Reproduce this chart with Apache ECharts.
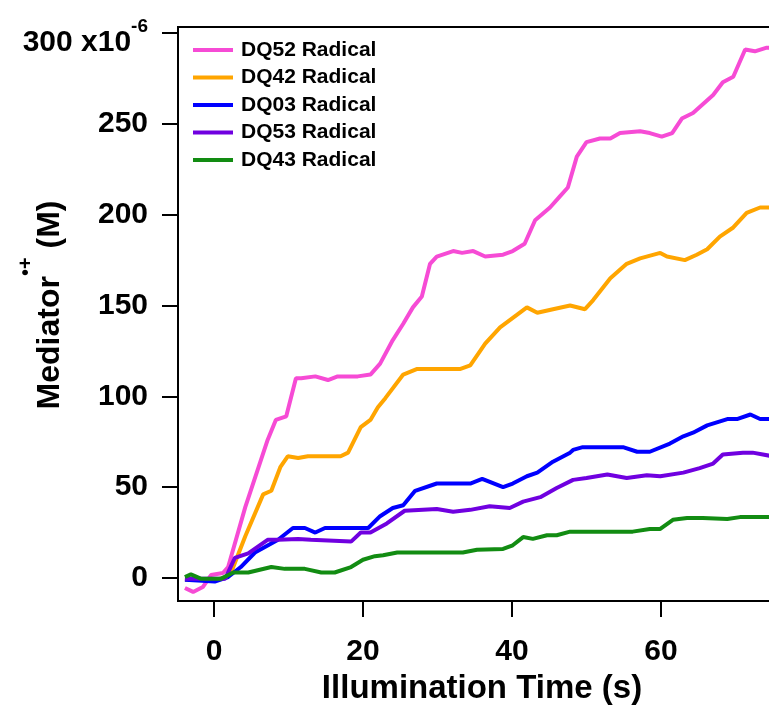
<!DOCTYPE html>
<html>
<head>
<meta charset="utf-8">
<script src="https://cdn.jsdelivr.net/npm/echarts@6/dist/echarts.min.js"></script>
<style>
  html, body { margin: 0; padding: 0; background: #fff; }
  #chart { width: 769px; height: 709px; }
</style>
</head>
<body>
<div id="chart"></div>
<script>
// mediator radical concentration vs illumination time, values in 1e-6 M
const xTicks = [0, 20, 40, 60];
const yTicks = [0, 50, 100, 150, 200, 250, 300];

const seriesNames = ['DQ52 Radical', 'DQ42 Radical', 'DQ03 Radical', 'DQ53 Radical', 'DQ43 Radical'];
const seriesColors = ['#f64bd5', '#ffa500', '#0000ff', '#7000e0', '#128c12'];

const dq52 = [[-3.9,-5.5],[-2.8,-7.7],[-1.5,-5],[-0.4,1.6],[1.2,2.7],[1.9,6],[4.2,39],[7.2,76],[8.3,87],[9.7,89],[11,110],[11.7,110],[13.6,111],[15.3,109],[16.6,111],[19.3,111],[21,112],[22.3,118],[24,131],[25.4,140],[26.7,149],[27.9,155],[29,173],[29.9,177],[32.1,180],[33.3,179],[34.8,180],[36.4,177],[38.8,178],[40.1,180],[41.7,184],[43.1,197],[45.1,204],[46.4,210],[47.5,215],[48.7,232],[50,240],[51.8,242],[53.2,242],[54.5,245],[57.2,246],[58.5,245],[60.1,243],[61.5,245],[62.8,253],[64.3,256],[67,266],[68.3,273],[69.7,276],[71.3,291],[72.6,290],[74.2,292],[75,292]];
const dq42 = [[-3.9,-1],[0,-1],[1.5,0],[2.3,3],[4.2,23],[6.6,46],[7.7,48],[8.9,61],[9.9,67],[11.3,66],[12.6,67],[17,67],[18,69],[19.7,83],[21,87],[22,94],[23,99],[25.4,112],[27.2,115],[33,115],[34.4,117],[36.4,129],[38.4,138],[40.7,145],[42,149],[43.4,146],[45.5,148],[47.8,150],[49.8,148],[50.9,153],[53.2,165],[55.4,173],[57.2,176],[59.9,179],[60.8,177],[63.2,175],[64.8,178],[66.2,181],[67.9,188],[69.7,193],[71.5,201],[73.3,204],[75,204]];
const dq03 = [[-3.9,-1],[0.1,-2],[1.9,0.5],[3.6,6],[5.5,14],[8.6,21],[10.6,27.5],[12.2,27.5],[13.6,25],[14.9,27.5],[20.7,27.5],[22.3,34],[24,38.5],[25.4,40],[27,48],[29.9,52],[34.4,52],[36,54.5],[38.8,50],[40.1,52],[42,56],[43.4,58],[45.5,64],[47.8,69],[48.2,70.5],[49.5,72],[54.9,72],[56.8,69.5],[58.5,69.5],[61.2,74],[63,78],[64.3,80],[66.2,84],[68.9,87.5],[70.2,87.5],[72,90],[73.3,87.5],[75,87.5]];
const dq53 = [[-3.9,-0.5],[1.5,-0.5],[2.8,11],[4.6,13.5],[7.2,21],[8.6,21],[11.3,21.5],[13,21],[18.4,20],[19.7,25],[21,25],[23.2,30],[25.6,37],[29.9,38],[32.1,36.5],[34.4,37.5],[37,39.5],[39.7,38.5],[41.5,42],[43.8,44.5],[46,49.5],[48.2,54],[50,55],[52.8,57],[55.4,55],[58.1,56.5],[59.9,56],[63,58],[65.2,60.5],[67,63],[68.3,68],[71,69],[72.3,69],[75,67]];
const dq43 = [[-3.9,0.5],[-3.1,2],[-1.7,-0.5],[0.9,-0.5],[2.6,3],[4.6,3],[7.7,6],[9.5,5],[12.2,5],[14.4,3],[16.2,3],[18.4,6],[20,10],[21.6,12],[22.7,12.5],[24.6,14],[33.4,14],[35.3,15.5],[38.8,16],[40.1,18],[41.5,22.5],[42.8,21.5],[44.7,23.5],[46,23.5],[47.8,25.5],[49.1,25.5],[56.2,25.5],[58.5,27],[59.9,27],[61.6,32],[63.5,33],[65.6,33],[68.9,32.5],[70.6,33.5],[75,33.5]];

const allData = [dq52, dq42, dq03, dq53, dq43];
const FONT = "'Liberation Sans', Arial, sans-serif";

const series = allData.map((d, i) => ({
  name: seriesNames[i],
  type: 'line',
  data: d,
  showSymbol: false,
  symbol: 'none',
  smooth: false,
  lineStyle: { width: 4, color: seriesColors[i] },
  itemStyle: { color: seriesColors[i] },
  z: 2 + i
}));

const chart = echarts.init(document.getElementById('chart'), null, { renderer: 'canvas' });
chart.setOption({
  animation: false,
  backgroundColor: '#fff',
  grid: {
    left: 178, top: 27, right: -3, bottom: 108,
    outerBoundsMode: 'none',
    containLabel: false,
    show: true, borderColor: '#000', borderWidth: 2, backgroundColor: 'transparent'
  },
  legend: {
    orient: 'vertical',
    left: 193, top: 39,
    padding: 0,
    icon: 'rect',
    itemWidth: 40, itemHeight: 4,
    itemGap: 5.5,
    data: seriesNames,
    textStyle: { fontFamily: FONT, fontWeight: 'bold', fontSize: 21, lineHeight: 22, color: '#000', padding: [0, 0, 0, 3] }
  },
  xAxis: {
    type: 'value',
    min: -4.83, max: 74.9,
    name: 'Illumination Time (s)',
    nameLocation: 'middle',
    nameGap: 71,
    nameMoveOverlap: false,
    nameTextStyle: { fontFamily: FONT, fontWeight: 'bold', fontSize: 33, color: '#000', padding: [0, 0, 0, 14] },
    axisLine: { onZero: false, lineStyle: { color: '#000', width: 2 } },
    axisTick: { inside: false, length: 16, lineStyle: { color: '#000', width: 2 }, customValues: xTicks },
    axisLabel: { margin: 36, fontFamily: FONT, fontWeight: 'bold', fontSize: 30, color: '#000', customValues: xTicks },
    splitLine: { show: false }
  },
  yAxis: {
    type: 'value',
    min: -12.7, max: 303.4,
    name: '{b|Mediator}{sup|•+}{b| (M)}',
    nameLocation: 'middle',
    nameRotate: 90,
    nameGap: 112,
    nameMoveOverlap: false,
    nameTextStyle: {
      fontFamily: FONT, fontWeight: 'bold', fontSize: 32, color: '#000',
      padding: [0, 0, 0, 18],
      rich: {
        b: { fontFamily: FONT, fontWeight: 'bold', fontSize: 32, lineHeight: 34, verticalAlign: 'bottom', color: '#000' },
        sup: { fontFamily: FONT, fontWeight: 'bold', fontSize: 20, verticalAlign: 'top', color: '#000', padding: [0, 0, 30, 0] }
      }
    },
    axisLine: { onZero: false, lineStyle: { color: '#000', width: 2 } },
    axisTick: { inside: false, length: 16, lineStyle: { color: '#000', width: 2 }, customValues: yTicks },
    axisLabel: {
      margin: 30, fontFamily: FONT, fontWeight: 'bold', fontSize: 30, color: '#000',
      customValues: yTicks,
      formatter: v => v === 300 ? '{n|300 x10}{sup|-6}' : String(v),
      rich: {
        n: { fontFamily: FONT, fontWeight: 'bold', fontSize: 30, lineHeight: 30, verticalAlign: 'bottom', color: '#000' },
        sup: { fontFamily: FONT, fontWeight: 'bold', fontSize: 19, verticalAlign: 'top', color: '#000', padding: [9, 0, 21, 0] }
      }
    },
    splitLine: { show: false }
  },
  series: series
});
</script>
</body>
</html>
